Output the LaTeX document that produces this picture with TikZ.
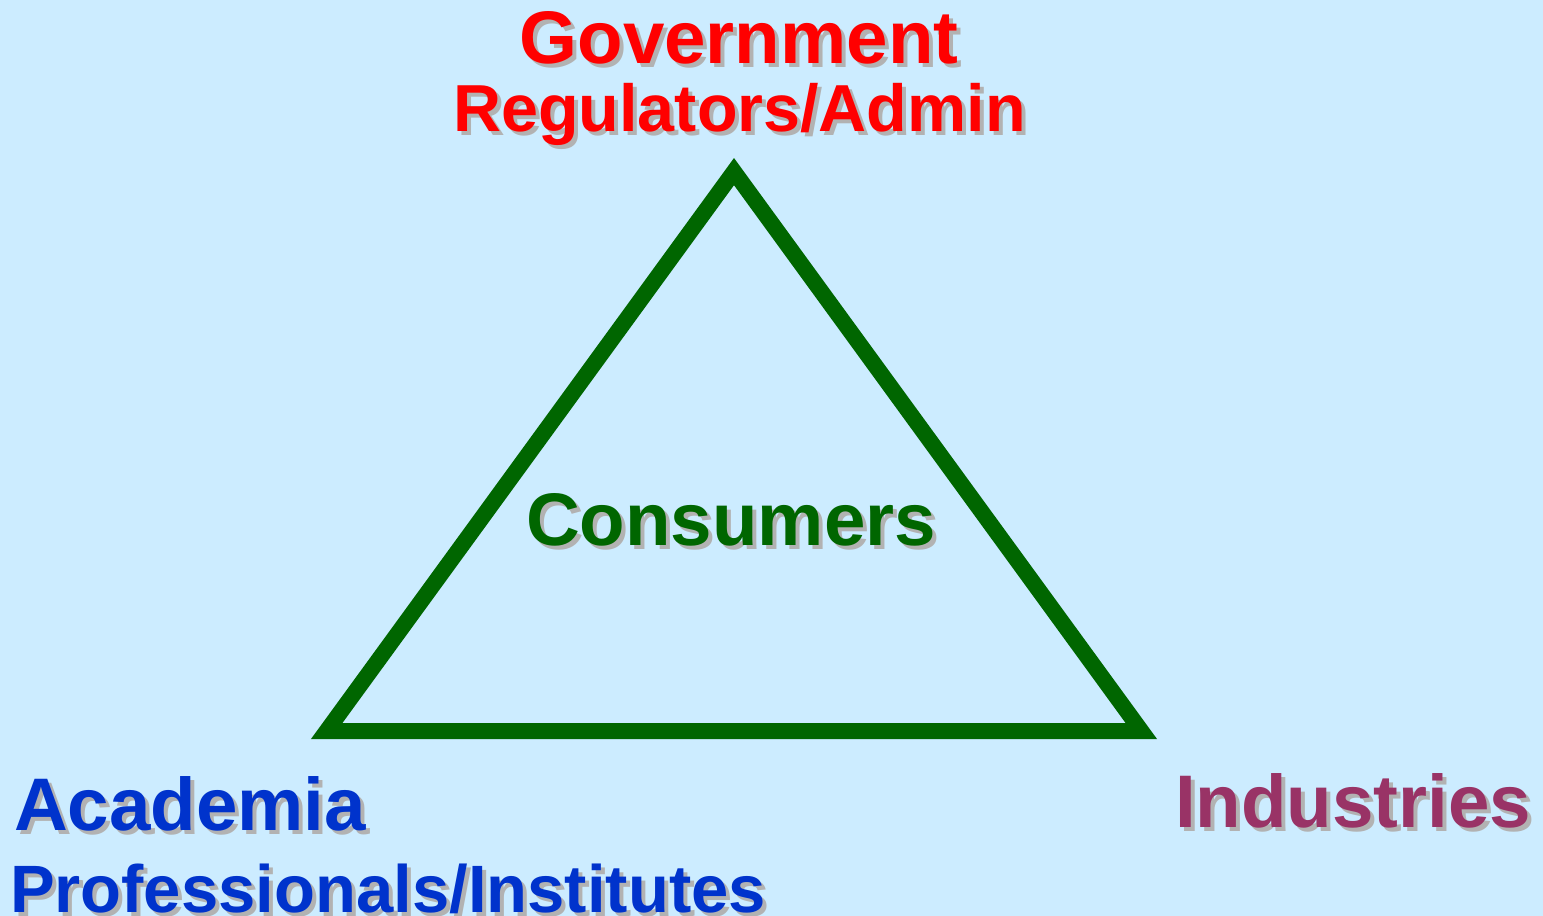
\documentclass[tikz,border=0pt]{standalone}
\usepackage{fontspec}
\setmainfont{Liberation Sans}
\definecolor{bgblue}{HTML}{CCECFF}
\definecolor{govred}{HTML}{FF0000}
\definecolor{acablue}{HTML}{0033CC}
\definecolor{indpurple}{HTML}{993366}
\definecolor{trigreen}{HTML}{006600}
\definecolor{shadowgrey}{HTML}{B2B2B2}
\begin{document}
\begin{tikzpicture}[x=1pt,y=-1pt,
  lbl/.style={inner sep=0pt, outer sep=0pt, anchor=base},
  lblw/.style={inner sep=0pt, outer sep=0pt, anchor=base west},
  shd/.style={text=shadowgrey},
  fbig/.style={font=\fontsize{74.5}{80}\selectfont\bfseries},
  fmid/.style={font=\fontsize{66.5}{72}\selectfont\bfseries},
  fsub/.style={font=\fontsize{67}{72}\selectfont\bfseries},
  tri/.style={draw=trigreen, line width=16pt, line join=miter}]
\fill[bgblue] (0,0) rectangle (1543,916);
\useasboundingbox (0,0) rectangle (1543,916);
% triangle
\coordinate (apex) at (734,171.6);
\coordinate (bl) at (326.7,731);
\coordinate (br) at (1141.3,731);
\draw[tri] (apex) -- (bl) -- (br) -- cycle;
% Government
\node[lbl, fbig, shd] (gov-s) at (743,67) {Government};
\node[lbl, fbig, text=govred] (gov) at (739,63) {Government};
\node[lbl, fmid, shd] (reg-s) at (743.5,135) {Regulators/Admin};
\node[lbl, fmid, text=govred] (reg) at (739.5,131) {Regulators/Admin};
% Consumers
\node[lbl, fbig, shd] (con-s) at (735,549) {Consumers};
\node[lbl, fbig, text=trigreen] (con) at (731,545) {Consumers};
% Academia
\node[lblw, fbig, shd] (aca-s) at (18,834) {Academia};
\node[lblw, fbig, text=acablue] (aca) at (14,830) {Academia};
\node[lblw, fsub, shd] (pro-s) at (14,916) {Professionals/Institutes};
\node[lblw, fsub, text=acablue] (pro) at (10,912) {Professionals/Institutes};
% Industries
\node[lblw, fbig, shd] (ind-s) at (1179,831) {Industries};
\node[lblw, fbig, text=indpurple] (ind) at (1175,827) {Industries};
\end{tikzpicture}
\end{document}
